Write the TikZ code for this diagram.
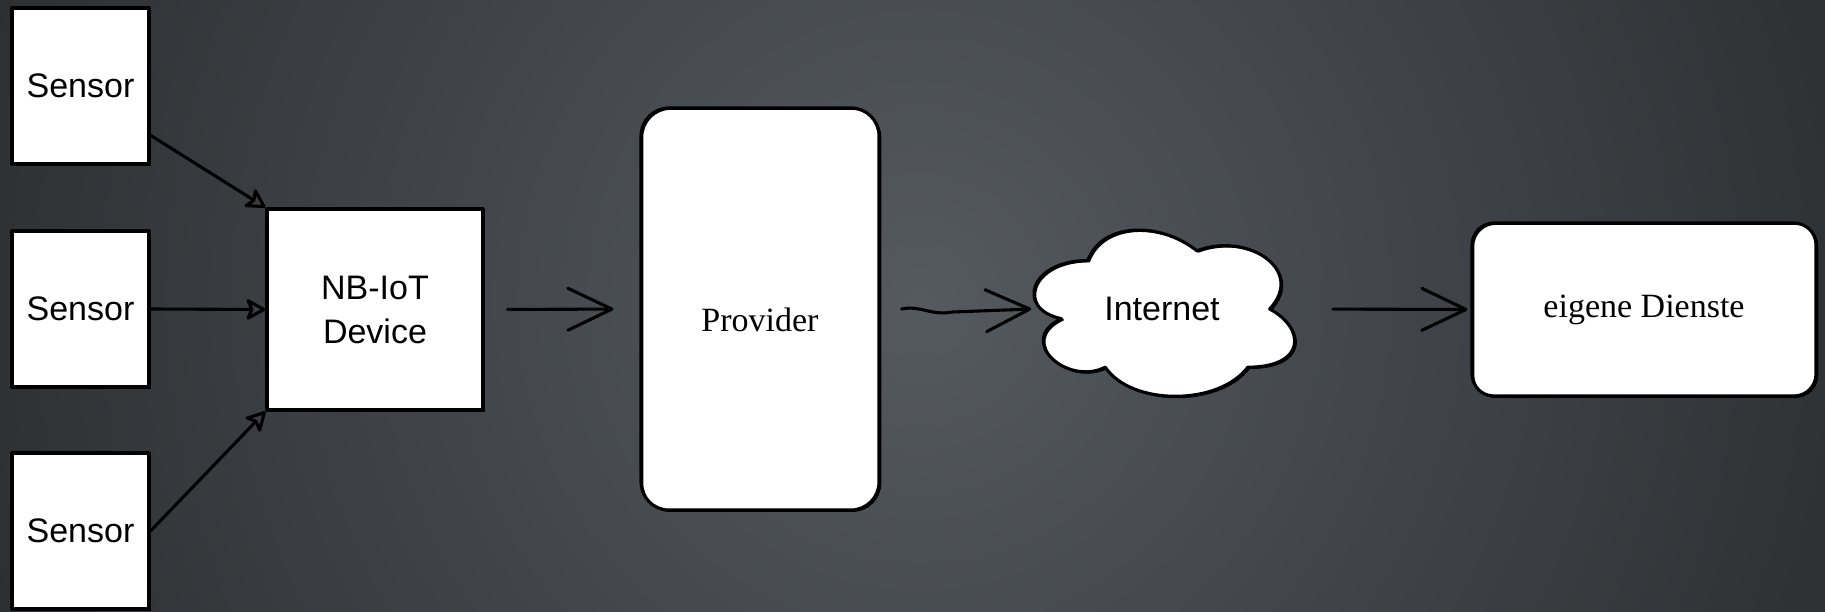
\documentclass[tikz,border=0pt]{standalone}
\usepackage{fontspec}
\setmainfont{Liberation Serif}
\newfontfamily\arialf{Liberation Sans}
\usetikzlibrary{arrows.meta,calc}
\pgfdeclareradialshading{bgshade}{\pgfpoint{0bp}{0bp}}{rgb(0bp)=(0.333,0.353,0.373); rgb(25bp)=(0.110,0.118,0.125); rgb(50bp)=(0.110,0.118,0.125)}
\begin{document}
\begin{tikzpicture}[x=1pt,y=-1pt,
  box/.style={draw=black, line width=3.1pt, fill=white, line join=round,
    postaction={draw=black, line width=1.4pt, transform canvas={shift={(1.6pt,-1.2pt)}}}},
  sanstext/.style={font=\arialf\fontsize{34}{44}\selectfont, text=black},
  seriftext/.style={font=\fontsize{34}{44}\selectfont, text=black},
  arrbig/.style={line width=3.1pt, draw=black, line cap=round, line join=round,
    -{Straight Barb[length=44pt,width=42pt,line cap=round,line join=round]}},
  arrsmall/.style={line width=3.1pt, draw=black, line cap=round,
    -{Stealth[open,length=22pt,width=24pt,inset=5pt,line join=round]}},
]
\useasboundingbox (0,0) rectangle (1825,612);
\begin{scope}
  \clip (0,0) rectangle (1825,612);
  \shade[shading=bgshade] (920,300) circle (1380);
\end{scope}

% sensors
\node[box, sanstext, minimum width=137pt, minimum height=156pt, inner sep=0pt] (s1) at (80.5,86) {Sensor};
\node[box, sanstext, minimum width=137pt, minimum height=156pt, inner sep=0pt] (s2) at (80.5,309) {Sensor};
\node[box, sanstext, minimum width=137pt, minimum height=156pt, inner sep=0pt] (s3) at (80.5,531) {Sensor};

% NB-IoT device
\node[box, sanstext, align=center, minimum width=216pt, minimum height=201pt, inner sep=0pt] (nb) at (375,309.5) {NB-IoT\\Device};

% Provider
\node[box, rounded corners=28pt, minimum width=238pt, minimum height=402pt, inner sep=0pt,
  label={[seriftext, yshift=-11pt]center:Provider}] (prov) at (760,309) {};

% Internet cloud
\begin{scope}[shift={(1015,212)}, x=291pt, y=-194pt]
  \draw[box] (0.25,0.25) .. controls (0.05,0.25) and (0,0.5) .. (0.16,0.55)
    .. controls (0,0.66) and (0.18,0.9) .. (0.31,0.8)
    .. controls (0.4,1) and (0.7,1) .. (0.8,0.8)
    .. controls (1,0.8) and (1,0.6) .. (0.875,0.5)
    .. controls (1,0.3) and (0.8,0.1) .. (0.625,0.2)
    .. controls (0.5,0.05) and (0.3,0.05) .. (0.25,0.25) -- cycle;
\end{scope}
\node[sanstext, minimum width=261pt, minimum height=166pt, inner sep=0pt] (inet) at (1162,309) {Internet};

% eigene Dienste
\node[box, seriftext, rounded corners=22pt, minimum width=344pt, minimum height=173pt, inner sep=0pt] (dien) at (1644,309.5) {eigene Dienste};

% connectors
\draw[arrsmall] ($(s1.south east)!0.19!(s1.north east)$) -- (nb.north west);
\draw[arrsmall] (s2.east) -- (nb.west);
\draw[arrsmall] (s3.east) -- (nb.south west);
\draw[arrbig, shorten <=23pt, shorten >=26pt] (nb.east) -- (prov.west);
\draw[arrbig] ($(prov.east)+(21,0)$) .. controls ($(prov.east)+(40,-4)$) and ($(prov.east)+(50,7)$) .. ($(prov.east)+(72,3)$) -- (inet.west);
\draw[arrbig, shorten <=40pt, shorten >=3pt] (inet.east) -- (dien.west);
\end{tikzpicture}
\end{document}
